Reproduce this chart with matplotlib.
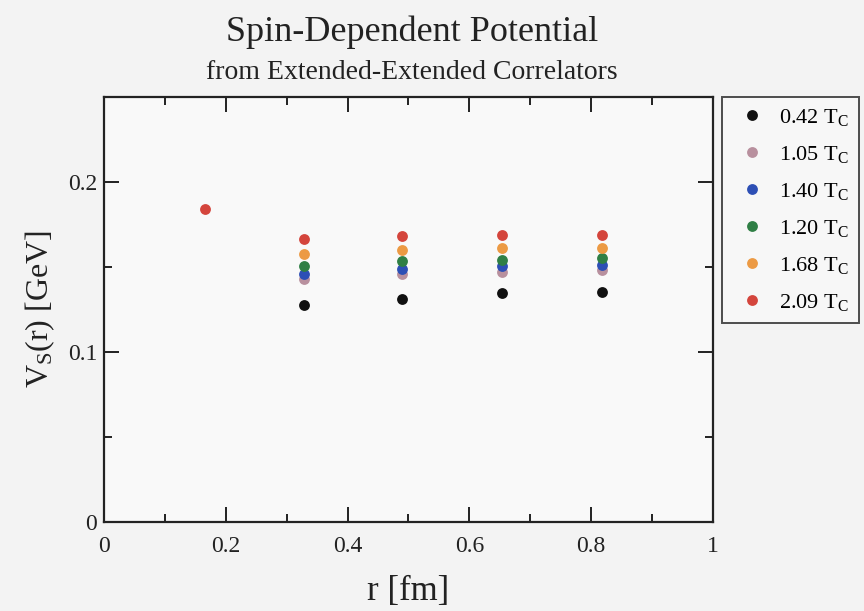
import matplotlib
matplotlib.use("Agg")
import matplotlib.pyplot as plt
from matplotlib.ticker import MultipleLocator, FormatStrFormatter

# r positions [fm] and V_S(r) [GeV] for each temperature
r_short = [0.166]
r_vals = [0.328, 0.490, 0.653, 0.817]

labels = ["0.42", "1.05", "1.40", "1.20", "1.68", "2.09"]
colors = ["#111111", "#b8909e", "#2d4fb5", "#2f7f45", "#ec9a44", "#d4453c"]

v_042 = [0.1278, 0.1313, 0.1347, 0.1350]
v_105 = [0.1428, 0.1458, 0.1473, 0.1481]
v_140 = [0.1460, 0.1490, 0.1506, 0.1510]
v_120 = [0.1506, 0.1532, 0.1542, 0.1551]
v_168 = [0.1578, 0.1600, 0.1610, 0.1613]
v_209 = [0.1663, 0.1684, 0.1688, 0.1688]
v_209_short = [0.1838]

plt.rcParams['font.family'] = ['Liberation Serif', 'DejaVu Serif']
plt.rcParams['mathtext.fontset'] = 'custom'
plt.rcParams['mathtext.rm'] = 'Liberation Serif'
plt.rcParams['mathtext.it'] = 'Liberation Serif'

fig = plt.figure(figsize=(8.64, 6.11), dpi=100, facecolor='#f3f3f3')
ax = fig.add_axes([0.1204, 0.1452, 0.7048, 0.6965])
ax.set_facecolor('#f9f9f9')

series = [v_042, v_105, v_140, v_120, v_168, v_209]
for lab, col, v in zip(labels, colors, series):
    x = r_vals
    y = v
    if lab == "2.09":
        x = r_short + r_vals
        y = v_209_short + v_209
    ax.plot(x, y, 'o', color=col, markersize=7.8, markeredgewidth=0,
            linestyle='none', label=lab + r" T$_{\mathrm{C}}$")

ax.set_xlim(0, 1)
ax.set_ylim(0, 0.25)
ax.xaxis.set_major_locator(MultipleLocator(0.2))
ax.xaxis.set_minor_locator(MultipleLocator(0.1))
ax.yaxis.set_major_locator(MultipleLocator(0.1))
ax.yaxis.set_minor_locator(MultipleLocator(0.05))
ax.xaxis.set_major_formatter(FormatStrFormatter('%g'))
ax.yaxis.set_major_formatter(FormatStrFormatter('%g'))

ax.tick_params(which='both', direction='in', top=True, right=True,
               width=1.4, labelsize=17, colors='#222222')
ax.tick_params(which='major', length=11, pad=5)
ax.tick_params(axis='x', which='major', pad=10)
ax.tick_params(which='minor', length=6)
for sp in ax.spines.values():
    sp.set_linewidth(1.6)
    sp.set_color('#222222')

ax.set_xlabel("r [fm]", fontsize=25, labelpad=13, color='#222222')
ax.set_ylabel(r"V$_{\mathrm{S}}$(r) [GeV]", fontsize=23, labelpad=8,
              color='#222222')

fig.text(0.477, 0.947, "Spin-Dependent Potential", ha='center', va='center',
         fontsize=26, color='#222222')
fig.text(0.477, 0.881, "from Extended-Extended Correlators", ha='center',
         va='center', fontsize=20, color='#222222')

leg = fig.legend(loc='upper left', bbox_to_anchor=(0.836, 0.841),
                 fontsize=16, frameon=True, fancybox=False,
                 handletextpad=0.3, labelspacing=0.72, borderpad=0.45,
                 handlelength=1.8, borderaxespad=0)
leg.get_frame().set_edgecolor('#222222')
leg.get_frame().set_linewidth(1.4)
leg.get_frame().set_facecolor('#f9f9f9')

fig.savefig("out.png", dpi=100, facecolor=fig.get_facecolor())
